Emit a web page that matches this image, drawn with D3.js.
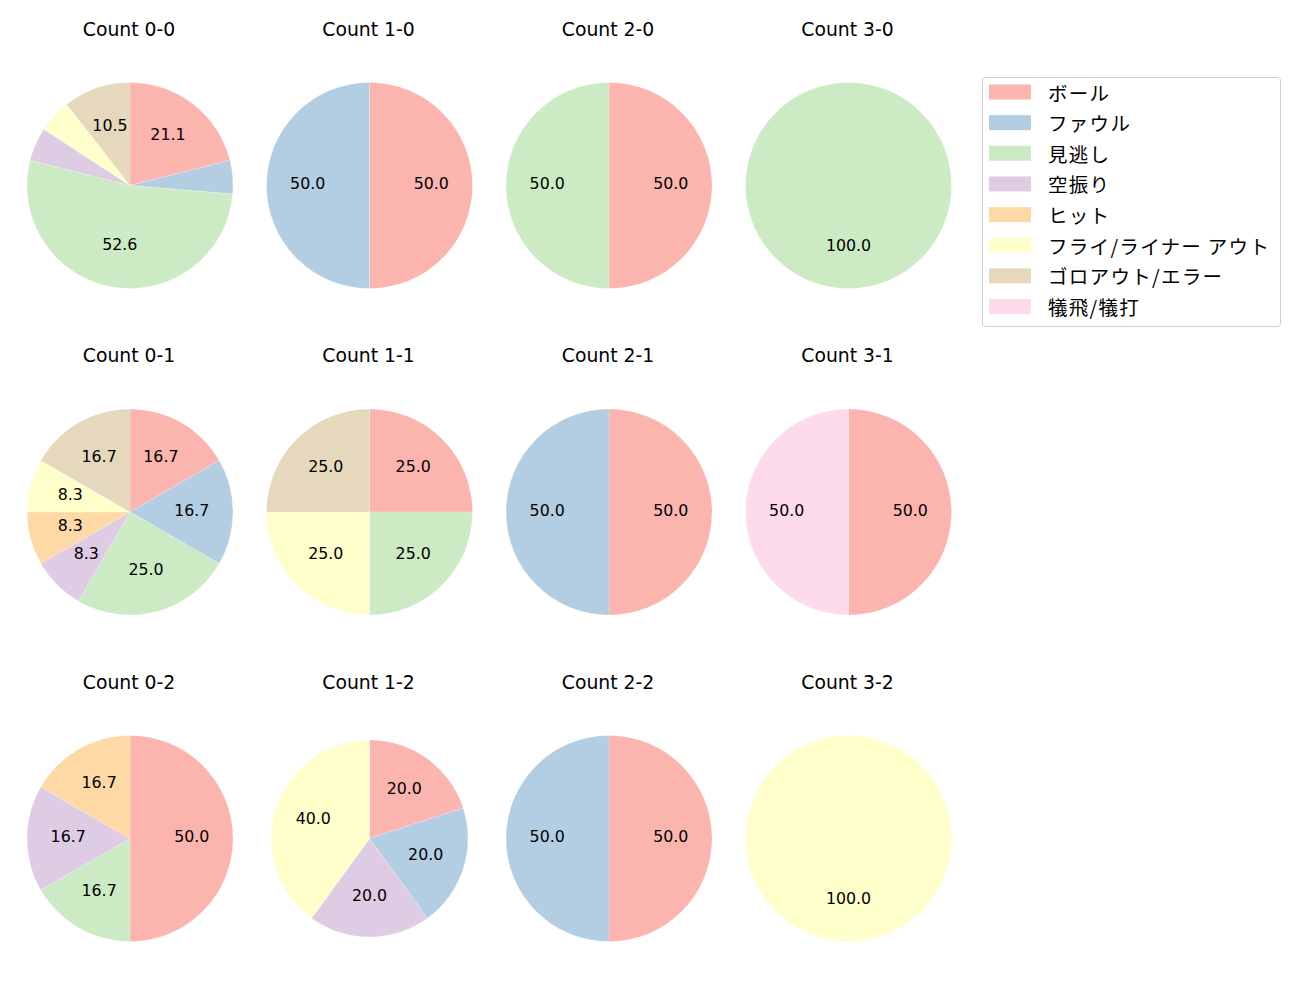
<!DOCTYPE html>
<html><head><meta charset="utf-8">
<script src="https://cdn.jsdelivr.net/npm/d3@7"></script>
<style>body{margin:0;background:#fff}svg{display:block}text{fill:#000}</style>
</head><body>
<svg id="c" width="1300" height="1000"></svg>
<script>
const categories = ["ボール","ファウル","見逃し","空振り","ヒット","フライ/ライナー アウト","ゴロアウト/エラー","犠飛/犠打"];
const colors = ["#fbb4ae","#b3cde3","#ccebc5","#decbe4","#fed9a6","#ffffcc","#e5d8bd","#fddaec"];
const titles = ["Count 0-0","Count 1-0","Count 2-0","Count 3-0",
                "Count 0-1","Count 1-1","Count 2-1","Count 3-1",
                "Count 0-2","Count 1-2","Count 2-2","Count 3-2"];
// counts per category (same order as categories)
const c00 = [4,1,10,1,0,1,2,0];
const c10 = [1,1,0,0,0,0,0,0];
const c20 = [1,0,1,0,0,0,0,0];
const c30 = [0,0,1,0,0,0,0,0];
const c01 = [2,2,3,1,1,1,2,0];
const c11 = [1,0,1,0,0,1,1,0];
const c21 = [1,1,0,0,0,0,0,0];
const c31 = [1,0,0,0,0,0,0,1];
const c02 = [3,0,1,1,1,0,0,0];
const c12 = [1,1,0,1,0,2,0,0];
const c22 = [1,1,0,0,0,0,0,0];
const c32 = [0,0,0,0,0,1,0,0];
const series = [c00,c10,c20,c30,c01,c11,c21,c31,c02,c12,c22,c32];

const svg = d3.select("#c");
const latin = '"DejaVu Sans","Noto Sans CJK JP",sans-serif';
const cjk = '"Noto Sans CJK JP","DejaVu Sans",sans-serif';
const colX = [130, 369.5, 609, 848.5];
const rowY = [185.5, 512, 838.5];
const titleY = [35.7, 362.3, 688.8];
const R = 103;
const radiusScale = {9: 0.956};

const pie = d3.pie().sort(null).value(d => d.v).startAngle(0).endAngle(2*Math.PI);

series.forEach((vals, i) => {
  const col = i % 4, row = Math.floor(i / 4);
  const cx = colX[col], cy = rowY[row];
  const r = R * (radiusScale[i] || 1);
  const total = d3.sum(vals);
  const data = vals.map((v, k) => ({v, k})).filter(d => d.v > 0);
  const arcs = pie(data);
  const g = svg.append("g").attr("transform", `translate(${cx},${cy})`);
  const arc = d3.arc().innerRadius(0).outerRadius(r);
  const lab = d3.arc().innerRadius(r*0.6).outerRadius(r*0.6);
  g.selectAll("path").data(arcs).enter().append("path")
    .attr("d", arc).attr("fill", d => colors[d.data.k])
    .attr("stroke", "#fff").attr("stroke-width", 0.4).attr("stroke-opacity", 0.5);
  g.selectAll("text").data(arcs.filter(d => d.data.v / total * 100 > 6)).enter().append("text")
    .attr("transform", d => {
      let [x, y] = lab.centroid(d);
      if (arcs.length === 1) { x = 0; y = r*0.6; }
      return `translate(${x},${y - 2})`;
    })
    .attr("text-anchor", "middle").attr("dominant-baseline", "central")
    .style("font-family", latin).style("font-size", "15.8px")
    .text(d => (d.data.v / total * 100).toFixed(1));
  svg.append("text").attr("x", cx - 1).attr("y", titleY[row])
    .attr("text-anchor", "middle").style("font-family", latin).style("font-size", "18.8px").text(titles[i]);
});

// legend
const lg = svg.append("g");
lg.append("rect").attr("x", 982.5).attr("y", 77.5).attr("width", 298).attr("height", 249)
  .attr("rx", 3).attr("fill", "#fff").attr("stroke", "#d0d0d0").attr("stroke-width", 1);
categories.forEach((c, k) => {
  const y = 92 + k * 30.65;
  lg.append("rect").attr("x", 989).attr("y", y - 7.5).attr("width", 42).attr("height", 15).attr("fill", colors[k]);
  lg.append("text").attr("x", 1048).attr("y", y).attr("dominant-baseline", "central")
    .style("font-family", cjk).style("font-size", "19.5px").style("letter-spacing", "1.3px").text(c);
});
</script>
</body></html>
